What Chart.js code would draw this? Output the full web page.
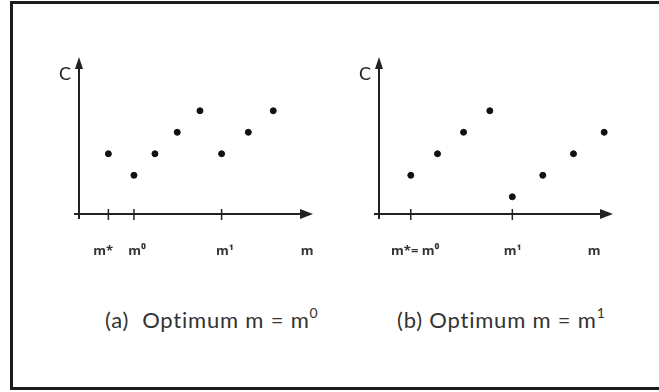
<!DOCTYPE html>
<html>
<head>
<meta charset="utf-8">
<script src="https://cdn.jsdelivr.net/npm/chart.js@4.4.0/dist/chart.umd.min.js"></script>
<style>
  html, body { margin:0; padding:0; background:#fff; width:659px; height:392px; overflow:hidden; }
  .frame { position:absolute; left:10px; top:1px; width:700px; height:389px; box-sizing:border-box;
           border:3px solid #1c1c1c; }
  .panel { position:absolute; top:30px; width:300px; height:240px; }
  .caption { position:absolute; top:306px; font-family:Lato, "Open Sans", sans-serif; font-size:22px;
             color:#333; white-space:pre; line-height:28px; letter-spacing:0.8px; }
  .caption sup { font-size:14px; vertical-align:10px; line-height:0; }
</style>
</head>
<body>
<div class="frame"></div>
<div class="panel" style="left:30px"><canvas id="chartA"></canvas></div>
<div class="panel" style="left:330px"><canvas id="chartB"></canvas></div>
<div class="caption" style="left:105px">(a)  Optimum m = m<sup>0</sup></div>
<div class="caption" style="left:397px">(b) Optimum m = m<sup>1</sup></div>

<script>
// panel (a): cost C against m
const panelAX = [1.33, 2.49, 3.44, 4.45, 5.48, 6.46, 7.67, 8.80];
const panelAC = [3, 2, 3, 4, 5, 3, 4, 5];
const tickMarksA = [1.33, 2.49, 6.46];
const labelPosA = [1.09, 2.63, 6.61, 10.33];
const labelTextA = ["m*", "m\u2070", "m\u00B9", "m"];

// panel (b)
const panelBX = [1.44, 2.65, 3.83, 5.02, 6.04, 7.42, 8.81, 10.2];
const panelBC = [2, 3, 4, 5, 1, 2, 3, 4];
const tickMarksB = [1.44, 6.04];
const labelPosB = [1.64, 6.05, 9.74];
const labelTextB = ["m*= m\u2070", "m\u00B9", "m"];

const INK = "#222";

// axes with arrow heads, small cross ticks and the C label
const arrowAxes = {
  id: "arrowAxes",
  afterDraw(chart, args, opts) {
    const {ctx, chartArea: a, scales: {x, y}} = chart;
    const x0 = x.getPixelForValue(0);
    const y0 = y.getPixelForValue(y.min);
    ctx.save();
    ctx.strokeStyle = INK;
    ctx.fillStyle = INK;
    ctx.lineWidth = 2;

    // vertical axis
    ctx.beginPath();
    ctx.moveTo(x0, y0 + 5);
    ctx.lineTo(x0, a.top + 10);
    ctx.stroke();
    ctx.beginPath();
    ctx.moveTo(x0, a.top);
    ctx.lineTo(x0 - 4, a.top + 12);
    ctx.lineTo(x0 + 4, a.top + 12);
    ctx.closePath();
    ctx.fill();

    // horizontal axis
    ctx.beginPath();
    ctx.moveTo(x0 - 5, y0);
    ctx.lineTo(a.right - 10, y0);
    ctx.stroke();
    ctx.beginPath();
    ctx.moveTo(a.right, y0);
    ctx.lineTo(a.right - 13, y0 - 5);
    ctx.lineTo(a.right - 13, y0 + 5);
    ctx.closePath();
    ctx.fill();

    // tick marks crossing the axis
    ctx.lineWidth = 1.5;
    opts.marks.forEach(v => {
      const px = x.getPixelForValue(v);
      ctx.beginPath();
      ctx.moveTo(px, y0 - 5);
      ctx.lineTo(px, y0 + 6);
      ctx.stroke();
    });

    ctx.font = "18px Lato, sans-serif";
    ctx.textAlign = "center";
    ctx.textBaseline = "middle";
    ctx.fillText("C", x0 - 14, a.top + 17);
    ctx.restore();
  }
};

function makePanel(id, xs, cs, marks, labelPos, labelText) {
  new Chart(document.getElementById(id), {
    type: "scatter",
    data: {
      datasets: [{
        data: xs.map((v, i) => ({x: v, y: cs[i]})),
        backgroundColor: "#111",
        borderColor: "#111",
        pointRadius: 3,
        pointHoverRadius: 3
      }]
    },
    options: {
      responsive: true,
      maintainAspectRatio: false,
      animation: false,
      events: [],
      layout: { padding: { left: 49, right: 17, top: 27, bottom: 10 } },
      scales: {
        x: {
          type: "linear",
          min: 0,
          max: 10.6,
          grid: { display: false, drawTicks: false },
          border: { display: false },
          afterBuildTicks: s => { s.ticks = labelPos.map(v => ({value: v})); },
          afterFit: s => { s.height = 46; s.paddingLeft = 0; s.paddingRight = 0; },
          ticks: {
            autoSkip: false,
            maxRotation: 0,
            padding: 29,
            color: "#333",
            font: { family: "Open Sans", size: 13, weight: "bold" },
            callback: (v, i) => labelText[i]
          }
        },
        y: { display: false, min: 0.2, max: 7.5 }
      },
      plugins: {
        legend: { display: false },
        tooltip: { enabled: false },
        arrowAxes: { marks: marks }
      }
    },
    plugins: [arrowAxes]
  });
}

makePanel("chartA", panelAX, panelAC, tickMarksA, labelPosA, labelTextA);
makePanel("chartB", panelBX, panelBC, tickMarksB, labelPosB, labelTextB);
</script>
</body>
</html>
